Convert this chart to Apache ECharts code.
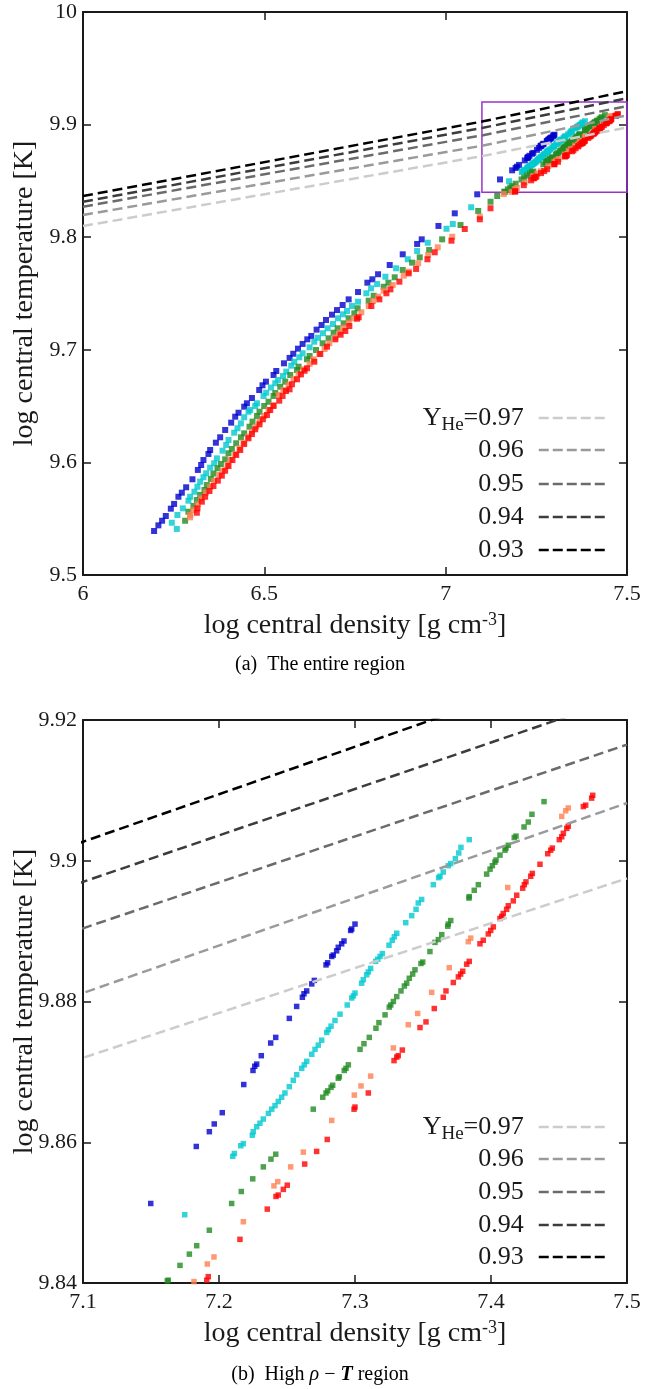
<!DOCTYPE html>
<html><head><meta charset="utf-8">
<script src="https://cdn.jsdelivr.net/npm/echarts@6/dist/echarts.min.js"></script>
<style>html,body{margin:0;padding:0;background:#fff}#c{width:671px;height:1389px}</style>
</head><body><div id="c"></div><script>
// ---------- data ----------
// Y_He = const lines: log rho points and log T values
const lineRho = [6.0, 7.1, 7.5];
const yHe097 = [9.8099, 9.8720, 9.8975];
const yHe096 = [9.8197, 9.8812, 9.9082];
const yHe095 = [9.8271, 9.8904, 9.9165];
const yHe094 = [9.8315, 9.8970, 9.9234];
const yHe093 = [9.8366, 9.9027, 9.9297];
const lineNames = ['0.97', '0.96', '0.95', '0.94', '0.93'];

// zoom window shown in panel (b)
const boxRho = [7.1, 7.5];
const boxT = [9.84, 9.92];

// model tracks [log rho_c, log T_c]
const blue = [
[6.1960,9.5391],[6.2079,9.5441],[6.2181,9.5482],[6.2283,9.5524],[6.2421,9.5589],[6.2512,9.5631],[6.2631,9.5695],[6.2725,9.5731],[6.2844,9.5779],[6.3018,9.5850],[6.3167,9.5933],[6.3258,9.5977],[6.3321,9.6021],[6.3459,9.6075],[6.3506,9.6110],[6.3664,9.6175],[6.3782,9.6223],[6.3920,9.6288],[6.4086,9.6353],[6.4197,9.6406],[6.4288,9.6441],[6.4445,9.6495],[6.4520,9.6525],[6.4658,9.6572],[6.4859,9.6643],[6.4950,9.6685],[6.5044,9.6717],[6.5254,9.6776],[6.5329,9.6812],[6.5541,9.6880],[6.5696,9.6928],[6.5798,9.6965],[6.5928,9.7010],[6.6055,9.7052],[6.6184,9.7093],[6.6295,9.7123],[6.6441,9.7179],[6.6579,9.7220],[6.6701,9.7265],[6.6866,9.7312],[6.7004,9.7353],[6.7159,9.7398],[6.7325,9.7448],[6.7584,9.7513],[6.7841,9.7596],[6.7979,9.7626],[6.8136,9.7671],[6.8457,9.7753],[6.8816,9.7848],[6.9213,9.7940],[6.9340,9.7981],[6.9801,9.8100],[7.0251,9.8212],[7.0870,9.8381],
[7.1498,9.8513],[7.1833,9.8594],[7.1929,9.8615],[7.1965,9.8626],[7.2024,9.8642],[7.2182,9.8682],[7.2250,9.8702],[7.2263,9.8708],[7.2277,9.8711],[7.2311,9.8723],[7.2380,9.8741],[7.2417,9.8749],[7.2517,9.8776],[7.2571,9.8793],[7.2613,9.8806],[7.2625,9.8811],[7.2645,9.8815],[7.2682,9.8825],[7.2701,9.8830],[7.2787,9.8852],[7.2799,9.8855],[7.2829,9.8864],[7.2840,9.8866],[7.2865,9.8872],[7.2877,9.8877],[7.2902,9.8882],[7.2919,9.8886],[7.2968,9.8901],[7.2976,9.8903],[7.3000,9.8910]
];
const cyan = [
[6.2587,9.5409],[6.2449,9.5464],[6.2604,9.5533],[6.2753,9.5592],[6.2907,9.5660],[6.2954,9.5695],[6.3073,9.5740],[6.3156,9.5784],[6.3230,9.5829],[6.3321,9.5868],[6.3396,9.5903],[6.3506,9.5953],[6.3617,9.5992],[6.3691,9.6036],[6.3846,9.6104],[6.3948,9.6155],[6.4012,9.6199],[6.4169,9.6264],[6.4260,9.6303],[6.4354,9.6347],[6.4445,9.6401],[6.4564,9.6450],[6.4611,9.6465],[6.4749,9.6501],[6.4796,9.6525],[6.4978,9.6590],[6.5052,9.6619],[6.5182,9.6665],[6.5301,9.6703],[6.5375,9.6732],[6.5514,9.6767],[6.5605,9.6806],[6.5743,9.6859],[6.5826,9.6894],[6.5964,9.6933],[6.6055,9.6969],[6.6248,9.7022],[6.6378,9.7072],[6.6480,9.7107],[6.6618,9.7147],[6.6745,9.7191],[6.6894,9.7229],[6.7032,9.7280],[6.7170,9.7315],[6.7280,9.7345],[6.7418,9.7389],[6.7584,9.7427],[6.7813,9.7502],[6.7943,9.7546],[6.8109,9.7584],[6.8338,9.7649],[6.8633,9.7724],[6.8954,9.7804],[6.9213,9.7877],[6.9506,9.7951],[7.0022,9.8075],[7.0196,9.8117],[7.0704,9.8266],
[7.1748,9.8497],[7.2101,9.8580],[7.2113,9.8584],[7.2160,9.8595],[7.2179,9.8598],[7.2245,9.8610],[7.2252,9.8615],[7.2277,9.8622],[7.2301,9.8627],[7.2326,9.8633],[7.2363,9.8641],[7.2388,9.8647],[7.2412,9.8652],[7.2436,9.8658],[7.2461,9.8664],[7.2485,9.8670],[7.2517,9.8679],[7.2546,9.8688],[7.2571,9.8696],[7.2608,9.8705],[7.2627,9.8710],[7.2645,9.8715],[7.2682,9.8725],[7.2706,9.8732],[7.2730,9.8738],[7.2755,9.8745],[7.2792,9.8756],[7.2804,9.8760],[7.2824,9.8765],[7.2853,9.8773],[7.2890,9.8782],[7.2943,9.8795],[7.2976,9.8805],[7.2988,9.8808],[7.3000,9.8812],[7.3049,9.8826],[7.3061,9.8831],[7.3086,9.8838],[7.3098,9.8842],[7.3115,9.8847],[7.3152,9.8857],[7.3167,9.8860],[7.3184,9.8864],[7.3201,9.8868],[7.3250,9.8880],[7.3274,9.8887],[7.3289,9.8892],[7.3307,9.8897],[7.3373,9.8912],[7.3417,9.8922],[7.3449,9.8931],[7.3465,9.8940],[7.3490,9.8945],[7.3576,9.8966],[7.3615,9.8976],[7.3625,9.8978],[7.3649,9.8984],[7.3686,9.8993],[7.3704,9.8996],[7.3738,9.9003],[7.3763,9.9011],[7.3779,9.9019],[7.3840,9.9030]
];
const green = [
[6.2816,9.5482],[6.2907,9.5562],[6.3045,9.5613],[6.3139,9.5666],[6.3230,9.5711],[6.3349,9.5755],[6.3415,9.5799],[6.3526,9.5853],[6.3597,9.5901],[6.3708,9.5948],[6.3802,9.5986],[6.3920,9.6027],[6.4012,9.6081],[6.4105,9.6119],[6.4224,9.6170],[6.4354,9.6223],[6.4445,9.6258],[6.4591,9.6317],[6.4674,9.6362],[6.4796,9.6412],[6.4867,9.6450],[6.4997,9.6501],[6.5116,9.6539],[6.5254,9.6590],[6.5301,9.6616],[6.5439,9.6672],[6.5577,9.6717],[6.5715,9.6776],[6.5900,9.6821],[6.5944,9.6850],[6.6176,9.6916],[6.6248,9.6945],[6.6425,9.6998],[6.6607,9.7058],[6.6772,9.7102],[6.6911,9.7152],[6.7021,9.7191],[6.7187,9.7235],[6.7325,9.7280],[6.7482,9.7324],[6.7573,9.7369],[6.7877,9.7436],[6.8015,9.7480],[6.8291,9.7560],[6.8421,9.7596],[6.8595,9.7644],[6.8816,9.7709],[6.9075,9.7774],[6.9285,9.7821],[6.9544,9.7886],[6.9903,9.7981],[7.0409,9.8108],[7.0897,9.8233],[7.1237,9.8315],[7.1421,9.8366],
[7.1620,9.8403],[7.1627,9.8404],[7.1713,9.8425],[7.1782,9.8441],[7.1836,9.8453],[7.1929,9.8475],[7.2093,9.8513],[7.2164,9.8530],[7.2248,9.8548],[7.2326,9.8565],[7.2382,9.8576],[7.2417,9.8583],[7.2693,9.8647],[7.2763,9.8664],[7.2787,9.8670],[7.2799,9.8673],[7.2824,9.8678],[7.2836,9.8681],[7.2877,9.8691],[7.2885,9.8693],[7.2921,9.8702],[7.2934,9.8705],[7.2951,9.8710],[7.3037,9.8732],[7.3066,9.8740],[7.3105,9.8749],[7.3154,9.8762],[7.3176,9.8770],[7.3221,9.8781],[7.3252,9.8792],[7.3263,9.8795],[7.3282,9.8800],[7.3307,9.8807],[7.3338,9.8815],[7.3363,9.8822],[7.3380,9.8826],[7.3399,9.8833],[7.3424,9.8839],[7.3441,9.8845],[7.3485,9.8854],[7.3498,9.8856],[7.3551,9.8871],[7.3588,9.8884],[7.3613,9.8888],[7.3638,9.8895],[7.3682,9.8907],[7.3686,9.8910],[7.3704,9.8915],[7.3838,9.8947],[7.3840,9.8949],[7.3877,9.8958],[7.3907,9.8966],[7.3968,9.8981],[7.3993,9.8988],[7.4010,9.8993],[7.4029,9.8998],[7.4037,9.9001],[7.4066,9.9008],[7.4103,9.9015],[7.4110,9.9018],[7.4127,9.9022],[7.4171,9.9033],[7.4184,9.9035],[7.4243,9.9048],[7.4274,9.9055],[7.4301,9.9066],[7.4390,9.9084]
];
const coral = [
[6.2954,9.5512],[6.2954,9.5533],[6.3045,9.5577],[6.3167,9.5628],[6.3258,9.5681],[6.3388,9.5731],[6.3506,9.5784],[6.3617,9.5835],[6.3755,9.5888],[6.3846,9.5926],[6.3984,9.5977],[6.4059,9.6021],[6.4197,9.6075],[6.4315,9.6125],[6.4426,9.6175],[6.4547,9.6228],[6.4658,9.6273],[6.4776,9.6317],[6.4867,9.6362],[6.4997,9.6412],[6.5116,9.6465],[6.5254,9.6510],[6.5392,9.6599],[6.5530,9.6643],[6.5668,9.6687],[6.5806,9.6738],[6.5944,9.6782],[6.6082,9.6827],[6.6248,9.6874],[6.6358,9.6916],[6.6516,9.6963],[6.6662,9.7007],[6.6792,9.7058],[6.6958,9.7111],[6.7076,9.7155],[6.7187,9.7196],[6.7325,9.7241],[6.7463,9.7280],[6.7675,9.7333],[6.7877,9.7389],[6.7998,9.7433],[6.8136,9.7472],[6.8291,9.7525],[6.8540,9.7575],[6.8843,9.7658],[6.8981,9.7694],[6.9241,9.7768],[6.9517,9.7842],[6.9782,9.7910],[7.0180,9.8004],[7.0942,9.8182],[7.1603,9.8384],
[7.1816,9.8402],[7.1914,9.8427],[7.1963,9.8437],[7.2179,9.8487],[7.2404,9.8538],[7.2432,9.8544],[7.2527,9.8565],[7.2620,9.8586],[7.2829,9.8631],[7.2995,9.8667],[7.3044,9.8680],[7.3115,9.8694],[7.3282,9.8734],[7.3392,9.8767],[7.3461,9.8783],[7.3564,9.8813],[7.3693,9.8848],[7.3833,9.8885],[7.3851,9.8890],[7.4123,9.8962],[7.4520,9.9063],[7.4549,9.9071],[7.4568,9.9075]
];
const red = [
[6.3139,9.5553],[6.3156,9.5592],[6.3277,9.5651],[6.3368,9.5695],[6.3487,9.5746],[6.3597,9.5790],[6.3719,9.5838],[6.3829,9.5882],[6.3920,9.5926],[6.4012,9.5968],[6.4122,9.6021],[6.4224,9.6066],[6.4335,9.6110],[6.4445,9.6163],[6.4564,9.6214],[6.4658,9.6252],[6.4749,9.6294],[6.4867,9.6338],[6.4961,9.6383],[6.5072,9.6421],[6.5163,9.6465],[6.5254,9.6501],[6.5411,9.6548],[6.5503,9.6590],[6.5596,9.6634],[6.5696,9.6649],[6.5762,9.6694],[6.5900,9.6738],[6.6010,9.6782],[6.6110,9.6814],[6.6176,9.6836],[6.6378,9.6894],[6.6543,9.6963],[6.6728,9.7028],[6.6958,9.7093],[6.7104,9.7134],[6.7234,9.7167],[6.7344,9.7211],[6.7557,9.7276],[6.7601,9.7289],[6.7951,9.7389],[6.8172,9.7448],[6.8366,9.7502],[6.8476,9.7537],[6.8724,9.7605],[6.8981,9.7679],[6.9185,9.7718],[6.9497,9.7804],[6.9699,9.7866],[7.0160,9.7969],[7.0527,9.8073],[7.0942,9.8159],[7.1237,9.8257],
[7.1910,9.8404],[7.1921,9.8409],[7.2154,9.8462],[7.2355,9.8505],[7.2419,9.8523],[7.2436,9.8525],[7.2473,9.8533],[7.2502,9.8539],[7.2630,9.8569],[7.2718,9.8587],[7.2796,9.8604],[7.2993,9.8647],[7.3000,9.8650],[7.3098,9.8670],[7.3287,9.8716],[7.3307,9.8721],[7.3318,9.8723],[7.3348,9.8731],[7.3478,9.8763],[7.3522,9.8771],[7.3583,9.8790],[7.3649,9.8806],[7.3669,9.8815],[7.3723,9.8827],[7.3760,9.8835],[7.3777,9.8839],[7.3792,9.8843],[7.3821,9.8853],[7.3840,9.8857],[7.3919,9.8882],[7.3943,9.8887],[7.3980,9.8896],[7.3998,9.8901],[7.4017,9.8906],[7.4066,9.8918],[7.4079,9.8921],[7.4090,9.8925],[7.4115,9.8931],[7.4127,9.8936],[7.4164,9.8943],[7.4189,9.8951],[7.4233,9.8961],[7.4245,9.8966],[7.4257,9.8970],[7.4292,9.8978],[7.4304,9.8982],[7.4360,9.8995],[7.4417,9.9010],[7.4439,9.9015],[7.4451,9.9018],[7.4502,9.9030],[7.4520,9.9034],[7.4532,9.9039],[7.4557,9.9046],[7.4568,9.9049],[7.4679,9.9077],[7.4696,9.9079],[7.4740,9.9089],[7.4748,9.9093]
];

// ---------- styling ----------
const FONT = 'Liberation Serif';
const INK = '#1a1a1a';
const lineColors = ['#cccccc', '#9a9a9a', '#6b6b6b', '#3c3c3c', '#000000'];
const lineVals = [yHe097, yHe096, yHe095, yHe094, yHe093];
const tracks = [
  {name: 'trackBlue', data: blue, color: '#0000cd'},
  {name: 'trackCyan', data: cyan, color: '#00c9d0'},
  {name: 'trackGreen', data: green, color: '#228b22'},
  {name: 'trackCoral', data: coral, color: '#ff7f50'},
  {name: 'trackRed', data: red, color: '#ff0000'}
];

const chart = echarts.init(document.getElementById('c'), null, {renderer: 'canvas'});

const grids = [
  {left: 83, top: 12, width: 544, height: 563, containLabel: false, outerBoundsMode: 'none'},
  {left: 83, top: 720, width: 544, height: 563, containLabel: false, outerBoundsMode: 'none'}
];
const ranges = [
  {x: [6, 7.5, 0.5], y: [9.5, 10, 0.1]},
  {x: [7.1, 7.5, 0.1], y: [9.84, 9.92, 0.02]}
];

const axisLine = {show: true, onZero: false, lineStyle: {color: INK, width: 2}};
const axisTick = {show: true, inside: true, length: 8, lineStyle: {color: INK, width: 1.5}};
const labelStyle = {fontFamily: FONT, fontSize: 22, color: INK};

const xName = '{a|log central density [g cm}{s|-3}{a|]}';
const nameRich = {
  a: {fontFamily: FONT, fontSize: 28, lineHeight: 30, color: INK},
  s: {fontFamily: FONT, fontSize: 18, lineHeight: 18, padding: [0, 0, 12, 0], color: INK}
};

const xAxes = [], yAxes = [];
ranges.forEach((r, gi) => {
  xAxes.push({gridIndex: gi, type: 'value', min: r.x[0], max: r.x[1], interval: r.x[2], position: 'bottom',
    axisLine, axisTick, splitLine: {show: false},
    axisLabel: Object.assign({margin: 8}, labelStyle),
    name: xName, nameLocation: 'middle', nameGap: 36, nameMoveOverlap: false,
    nameTextStyle: {fontFamily: FONT, fontSize: 28, color: INK, rich: nameRich}});
  xAxes.push({gridIndex: gi, type: 'value', min: r.x[0], max: r.x[1], interval: r.x[2], position: 'top',
    axisLine, axisTick, splitLine: {show: false}, axisLabel: {show: false}});
  yAxes.push({gridIndex: gi, type: 'value', min: r.y[0], max: r.y[1], interval: r.y[2], position: 'left',
    axisLine, axisTick, splitLine: {show: false},
    axisLabel: Object.assign({margin: 6}, labelStyle),
    name: 'log central temperature [K]', nameLocation: 'middle', nameGap: 43, nameMoveOverlap: false,
    nameTextStyle: {fontFamily: FONT, fontSize: 28, color: INK, lineHeight: 30}});
  yAxes.push({gridIndex: gi, type: 'value', min: r.y[0], max: r.y[1], interval: r.y[2], position: 'right',
    axisLine, axisTick, splitLine: {show: false}, axisLabel: {show: false}});
});

const series = [];
[0, 1].forEach(gi => {
  const xi = gi * 2, yi = gi * 2;
  tracks.forEach((t, k) => {
    const s = {type: 'scatter', name: t.name, xAxisIndex: xi, yAxisIndex: yi, data: t.data,
      symbol: 'rect', symbolSize: gi === 0 ? 6 : 5.5, itemStyle: {color: t.color},
      z: 2, silent: true, clip: true};
    if (gi === 0 && k === 0) {
      s.markArea = {silent: true, z: 1,
        itemStyle: {color: 'rgba(0,0,0,0)', borderColor: '#9932cc', borderWidth: 1.5},
        data: [[{coord: [boxRho[0], boxT[0]]}, {coord: [boxRho[1], boxT[1]]}]]};
    }
    series.push(s);
  });
  lineNames.forEach((nm, k) => {
    series.push({type: 'line', name: nm, xAxisIndex: xi, yAxisIndex: yi,
      data: lineRho.map((r, i) => [r, lineVals[k][i]]),
      symbol: 'none', showSymbol: false, silent: true, clip: true, z: 3,
      itemStyle: {color: lineColors[k]},
      lineStyle: {color: lineColors[k], width: 2.5, type: [10, 5]}});
  });
});

const legendRich = {
  a: {fontFamily: FONT, fontSize: 26, lineHeight: 28, padding: [3, 0, 3, 0], color: INK},
  b: {fontFamily: FONT, fontSize: 19, lineHeight: 19, padding: [15, 0, 0, 0], color: INK},
  g: {width: 10}
};
const legendCenters = [[418, 451, 485, 518, 551], [1127, 1160, 1193, 1226, 1258]];
const legends = [];
legendCenters.forEach(rows => {
  rows.forEach((cy, k) => {
    legends.push({
      show: true, data: [lineNames[k]], right: 65, top: cy - 17, padding: 0,
      orient: 'horizontal', align: 'right', itemWidth: 66, itemHeight: 34, itemGap: 0,
      selectedMode: false,
      itemStyle: {opacity: 0, borderWidth: 0},
      lineStyle: {width: 2.5, type: [10, 4], opacity: 1},
      formatter: nm => nm === '0.97' ? '{a|Y}{b|He}{a|=0.97}{g| }' : '{a|' + nm + '}{g| }',
      textStyle: {fontFamily: FONT, fontSize: 26, color: INK, rich: legendRich}
    });
  });
});

const capRich = {
  n: {fontFamily: FONT, fontSize: 20, color: INK},
  i: {fontFamily: FONT, fontSize: 20, fontStyle: 'italic', color: INK},
  t: {fontFamily: FONT, fontSize: 20, fontStyle: 'italic', fontWeight: 'bold', color: INK}
};

chart.setOption({
  animation: false,
  backgroundColor: '#ffffff',
  grid: grids,
  xAxis: xAxes,
  yAxis: yAxes,
  legend: legends,
  series: series,
  graphic: [
    {type: 'text', x: 320, y: 665, silent: true,
     style: {text: '{n|(a)  The entire region}', rich: capRich, align: 'center', verticalAlign: 'middle'}},
    {type: 'text', x: 320, y: 1375, silent: true,
     style: {text: '{n|(b)  High }{i|ρ}{n| − }{t|T}{n| region}', rich: capRich, align: 'center', verticalAlign: 'middle'}}
  ]
});
</script></body></html>
